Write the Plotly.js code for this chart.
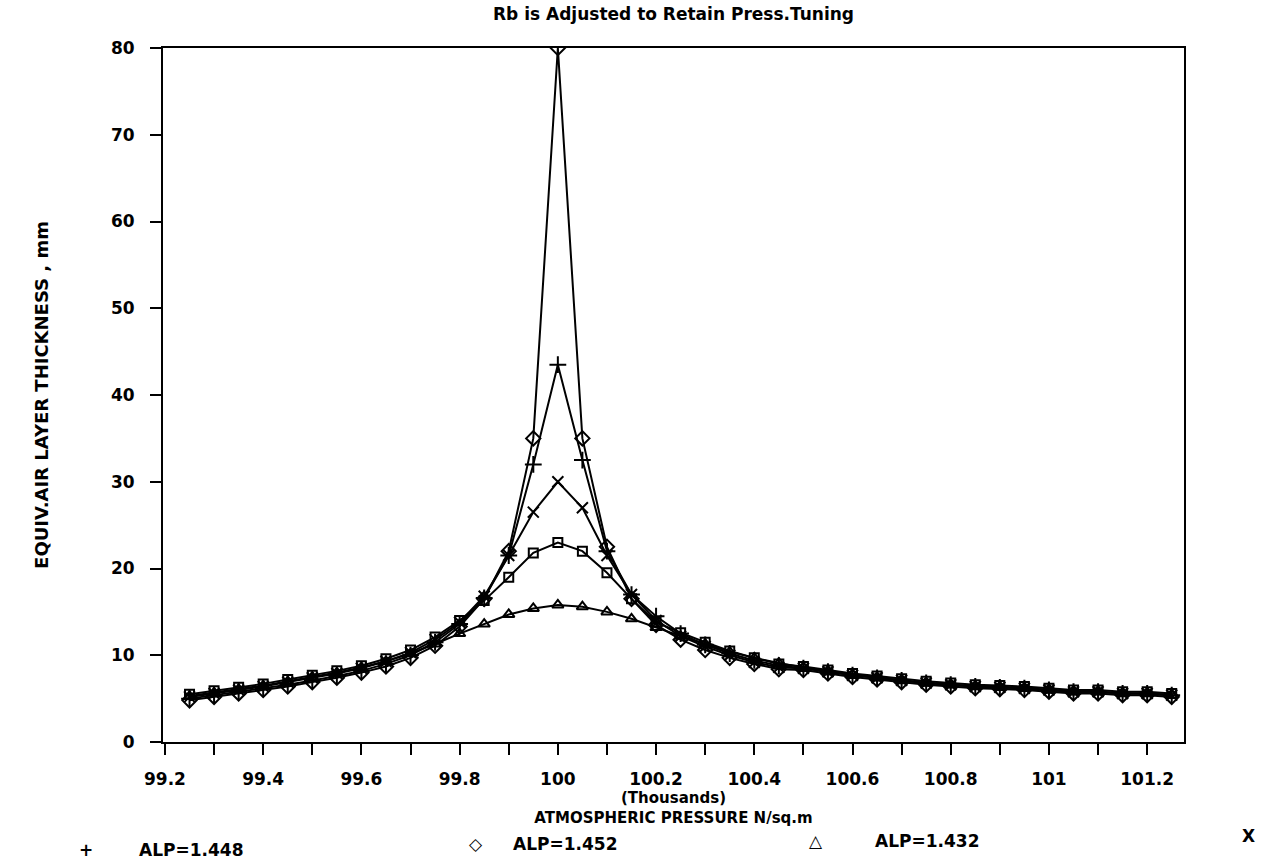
<!DOCTYPE html>
<html>
<head>
<meta charset="utf-8">
<script src="https://cdn.plot.ly/plotly-3.0.1.min.js"></script>
<style>html,body{margin:0;padding:0;background:#fff;}#chart{width:1270px;height:860px;}</style>
</head>
<body>
<div id="chart"></div>
<script>
// Pressure (thousands of N/sq.m)
const pressure = [99.25,99.30,99.35,99.40,99.45,99.50,99.55,99.60,99.65,99.70,99.75,99.80,99.85,99.90,99.95,100.00,100.05,100.10,100.15,100.20,100.25,100.30,100.35,100.40,100.45,100.50,100.55,100.60,100.65,100.70,100.75,100.80,100.85,100.90,100.95,101.00,101.05,101.10,101.15,101.20,101.25];

// Equiv. air layer thickness, mm
const alp1448 = [5.0,5.4,5.8,6.2,6.6,7.1,7.6,8.2,9.0,10.0,11.5,13.6,16.6,21.5,32.0,43.5,32.5,22.0,17.0,14.5,12.5,11.2,10.2,9.4,8.8,8.5,8.1,7.7,7.4,7.1,6.8,6.6,6.4,6.3,6.2,6.0,5.8,5.8,5.6,5.6,5.4];
const alp1452 = [4.8,5.2,5.6,6.0,6.4,6.9,7.4,8.0,8.7,9.7,11.1,13.3,16.5,22.0,35.0,80.0,35.0,22.5,16.5,13.5,11.8,10.6,9.7,9.0,8.4,8.3,7.9,7.5,7.2,6.9,6.6,6.4,6.2,6.1,6.0,5.8,5.6,5.6,5.4,5.4,5.2];
const alp1432 = [5.3,5.7,6.1,6.5,7.0,7.5,8.0,8.6,9.3,10.2,11.3,12.5,13.6,14.7,15.4,15.8,15.6,15.0,14.2,13.2,12.2,11.3,10.4,9.7,9.1,8.6,8.2,7.8,7.4,7.1,6.8,6.6,6.4,6.3,6.2,6.0,5.8,5.8,5.6,5.6,5.4];
const seriesX = [5.2,5.6,6.0,6.4,6.9,7.4,7.9,8.5,9.3,10.3,11.8,13.8,16.8,21.5,26.5,30.0,27.0,21.5,17.0,14.0,12.2,11.0,10.0,9.2,8.6,8.5,8.1,7.7,7.4,7.1,6.8,6.6,6.4,6.3,6.2,6.0,5.8,5.8,5.6,5.6,5.4];
const seriesSq = [5.5,5.9,6.3,6.7,7.2,7.7,8.2,8.8,9.6,10.6,12.1,14.0,16.3,19.0,21.8,23.0,22.0,19.5,16.5,13.8,12.6,11.5,10.5,9.7,9.0,8.7,8.3,7.9,7.6,7.3,7.0,6.8,6.6,6.5,6.4,6.2,6.0,6.0,5.8,5.8,5.6];

const seriesNames = ["ALP=1.448","ALP=1.452","ALP=1.432","",""];
const legendSymbols = ["+","\u25C7","\u25B3","X"];

const xTicks = [99.2,99.4,99.6,99.8,100,100.2,100.4,100.6,100.8,101,101.2];
const xTickText = ["99.2","99.4","99.6","99.8","100","100.2","100.4","100.6","100.8","101","101.2"];
const yTicks = [0,10,20,30,40,50,60,70,80];

const FONT = "DejaVu Sans, Verdana, sans-serif";

function tr(y, symbol, name, size){
  return {x: pressure, y: y, type:'scatter', mode:'lines+markers', name: name || 'series',
    line:{color:'#000', width:2},
    marker:{symbol: symbol, size: size||10, color:'#000', line:{color:'#000', width:2}},
    showlegend:false};
}

const data = [
  tr(alp1432, 'triangle-up-open', seriesNames[2], 10),
  tr(seriesSq, 'square-open', 'square', 9),
  tr(seriesX, 'x-thin-open', 'x', 11),
  tr(alp1448, 'cross-thin-open', seriesNames[0], 12),
  tr(alp1452, 'diamond-open', seriesNames[1], 11)
];

const L = 163, R = 1184, T = 48, B = 742;
function px(xp){ return (xp - L)/(R - L); }
function py(yp){ return (B - yp)/(B - T); }

const legendItems = [
  {sym: legendSymbols[0], sx: 86, tx: 137, y: 850, label: seriesNames[0]},
  {sym: legendSymbols[1], sx: 476, tx: 511, y: 844, label: seriesNames[1]},
  {sym: legendSymbols[2], sx: 816, tx: 873, y: 841, label: seriesNames[2]},
  {sym: legendSymbols[3], sx: 1248, tx: null, y: 836, label: ''}
];
const annotations = [];
legendItems.forEach(it => {
  annotations.push({text: it.sym, xref:'paper', yref:'paper', x: px(it.sx), y: py(it.y),
    xanchor:'center', yanchor:'middle', showarrow:false,
    font:{family:FONT, size:17, color:'#000', weight:'bold'}});
  if (it.tx !== null) {
    annotations.push({text: it.label, xref:'paper', yref:'paper', x: px(it.tx), y: py(it.y),
      xanchor:'left', yanchor:'middle', showarrow:false,
      font:{family:FONT, size:17, color:'#000', weight:'bold'}});
  }
});

const layout = {
  width:1270, height:860,
  paper_bgcolor:'#fff', plot_bgcolor:'#fff',
  margin:{l:L, r:1270-R, t:T, b:860-B, autoexpand:false},
  font:{family:FONT, color:'#000', size:16, weight:'bold'},
  title:{text:'Rb is Adjusted to Retain Press.Tuning', x:0.5, xref:'paper', xanchor:'center',
    y: 1-14/860, yref:'container', yanchor:'middle',
    font:{family:FONT, size:17, color:'#000', weight:'bold'}},
  xaxis:{range:[99.196, 101.275], tickvals:xTicks, ticktext:xTickText,
    ticks:'outside', ticklen:11, tickwidth:2, tickcolor:'#000', ticklabelstandoff:10,
    minor:{dtick:0.1, tick0:99.2, ticks:'outside', ticklen:11, tickwidth:2, tickcolor:'#000', showgrid:false},
    showline:true, linecolor:'#000', linewidth:2, mirror:true, showgrid:false, zeroline:false,
    tickfont:{family:FONT, size:17, color:'#000', weight:'bold'},
    title:{text:'(Thousands)<br>ATMOSPHERIC PRESSURE N/sq.m', standoff:0,
      font:{family:FONT, size:15, color:'#000', weight:'bold'}},
    automargin:false, fixedrange:true},
  yaxis:{range:[0,80], tickvals:yTicks, ticks:'outside', ticklen:11, tickwidth:2, tickcolor:'#000', ticklabelstandoff:12,
    showline:true, linecolor:'#000', linewidth:2, mirror:true, showgrid:false, zeroline:false,
    tickfont:{family:FONT, size:17, color:'#000', weight:'bold'},
    title:{text:'EQUIV.AIR LAYER THICKNESS , mm', standoff:58,
      font:{family:FONT, size:18, color:'#000', weight:'bold'}},
    automargin:false, fixedrange:true},
  annotations: annotations,
  showlegend:false
};

Plotly.newPlot('chart', data, layout, {displayModeBar:false, staticPlot:true});
</script>
</body>
</html>
